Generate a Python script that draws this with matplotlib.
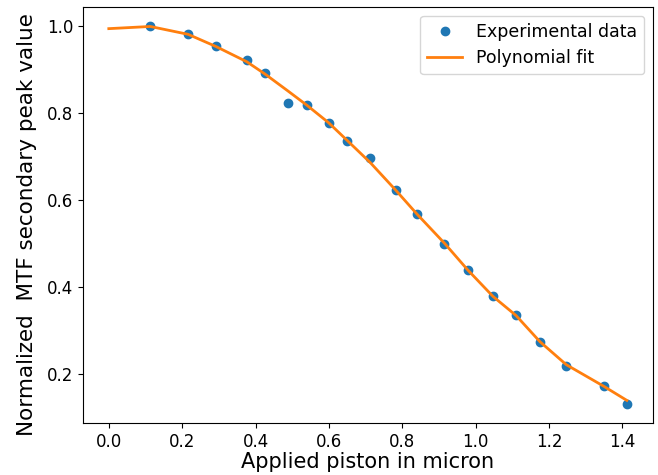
"""MTF secondary peak versus applied piston, with polynomial fit."""

import matplotlib

matplotlib.use("Agg")
import matplotlib.pyplot as plt

# Measured piston (micron) and normalized MTF secondary peak
piston = [0.113, 0.216, 0.292, 0.376, 0.427, 0.488, 0.540, 0.599, 0.650, 0.713,
          0.782, 0.840, 0.915, 0.978, 1.047, 1.110, 1.175, 1.247, 1.350, 1.412]
peak = [1.000, 0.982, 0.953, 0.923, 0.891, 0.824, 0.819, 0.778, 0.736, 0.697,
        0.623, 0.568, 0.499, 0.439, 0.379, 0.337, 0.274, 0.219, 0.172, 0.131]

# Fitted curve, evaluated at zero and at each measured piston
fit_x = [0.0] + piston
fit_y = [0.994, 0.999, 0.981, 0.953, 0.918, 0.889, 0.851, 0.818, 0.778, 0.737, 0.686,
         0.623, 0.568, 0.501, 0.440, 0.379, 0.335, 0.275, 0.222, 0.172, 0.140]

fig = plt.figure(figsize=(6.58, 4.75), dpi=100)
ax = fig.add_axes([0.126, 0.109, 0.866, 0.876])

ax.plot(piston, peak, "o", color="C0", label="Experimental data")
ax.plot(fit_x, fit_y, "-", color="C1", linewidth=2, label="Polynomial fit")

ax.set_xlabel("Applied piston in micron", fontsize=15, labelpad=1)
ax.set_ylabel("Normalized  MTF secondary peak value", fontsize=15.5)
ax.yaxis.set_label_coords(-0.08, 0.478)
ax.tick_params(labelsize=12)
ax.legend(loc="upper right", fontsize=12.5)

fig.savefig("out.png", dpi=100)
plt.close(fig)
